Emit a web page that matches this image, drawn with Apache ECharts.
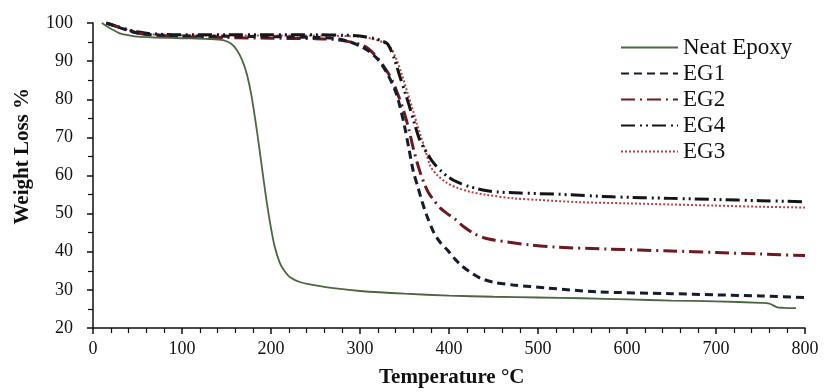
<!DOCTYPE html>
<html>
<head>
<meta charset="utf-8">
<script src="https://cdn.jsdelivr.net/npm/echarts@6/dist/echarts.min.js"></script>
<style>html,body{margin:0;padding:0;background:#fff;}#c{width:826px;height:392px;}</style>
</head>
<body>
<div id="c"></div>
<script>
const seriesNames = ['Neat Epoxy', 'EG1', 'EG2', 'EG4', 'EG3'];

const neatT = [10,15,20,30,40,50,70,100,130,146,155,162,168,173,178,184,189,194,199,204,210,215,221,233,250,275,300,350,400,450,500,550,600,650,700,750,760,768,775,790];
const neatW = [100,99.2,98.5,97.3,96.8,96.4,96.2,96,95.8,95.5,94.6,92.8,90,86.5,81,72,63.5,55,47.5,41.5,37,35,33.4,32,31.2,30.3,29.7,29,28.5,28.2,28,27.8,27.5,27.2,27,26.6,26.4,25.5,25.3,25.2];

const eg1T = [15,20,30,40,50,60,80,100,150,200,250,270,285,300,311,320,330,340,345,350,355,360,365,370,375,383,390,398,407,416,426,436,450,472,510,566,650,700,750,800];
const eg1W = [100,99.6,98.8,98,97.4,97,96.8,96.6,96.5,96.4,96.2,96,95.3,94,92.4,90.5,87,82,78,73,67,61,57,53,49.5,45,42.5,40.5,38,36,34.3,33,32,31.3,30.5,29.5,29,28.7,28.4,28];

const eg2T = [15,20,30,40,50,60,80,100,150,200,250,270,285,300,309,318,327,335,342,349,355,360,366,372,377,383,390,398,406,417,428,440,452,465,490,522,579,650,700,750,800];
const eg2W = [100,99.6,98.8,98,97.4,97,96.6,96.4,96.2,96,95.9,95.7,95.2,94.4,93.3,91.3,88.5,85.5,81.6,77,72,67,62,58,55.5,53.5,51.5,50,48.7,46.5,44.8,43.6,43,42.6,41.8,41.2,40.7,40.2,39.8,39.4,39];

const eg4T = [15,20,30,40,50,60,80,100,150,200,250,280,300,315,325,331,338,345,351,357,362,366,371,375,382,390,400,409,420,438,453,480,521,584,650,700,750,800];
const eg4W = [100,99.6,98.9,98.2,97.7,97.3,97,96.9,96.9,96.9,96.9,96.8,96.6,96,95.3,94.5,91,85.8,81.5,77,73,70,67.5,66,63.5,61.4,59.5,58.3,57.3,56.2,55.7,55.4,55.1,54.4,54,53.7,53.4,53.1];

const eg3T = [15,20,30,40,50,60,80,100,150,200,250,280,300,315,325,333,340,347,353,359,364,368,373,379,386,398,410,424,440,473,500,547,600,650,700,750,800];
const eg3W = [100,99.6,98.9,98.1,97.5,97.1,96.9,96.8,96.7,96.7,96.7,96.6,96.4,95.8,95,94,91,86.5,82,77.5,73.5,70.5,67,62.5,60.3,58,56.7,55.7,55,54,53.6,53,52.7,52.4,52.1,51.8,51.6];

const xTicks = [0,100,200,300,400,500,600,700,800];
const yTicks = [20,30,40,50,60,70,80,90,100];

function pairs(t, w) { return t.map((v, i) => [v, w[i]]); }

const serif = 'Liberation Serif, Times New Roman, serif';
const chart = echarts.init(document.getElementById('c'), null, {renderer: 'canvas'});

const styles = [
  {color: '#4a6741', width: 1.8, type: 'solid'},
  {color: '#141c2e', width: 3, type: [8, 5]},
  {color: '#6e1820', width: 3, type: [14, 5, 2, 5]},
  {color: '#151515', width: 3, type: [14, 5, 2, 4, 2, 4]},
  {color: '#b84040', width: 2, type: [2, 2]}
];
const dataSets = [pairs(neatT, neatW), pairs(eg1T, eg1W), pairs(eg2T, eg2W), pairs(eg4T, eg4W), pairs(eg3T, eg3W)];

chart.setOption({
  animation: false,
  backgroundColor: '#ffffff',
  grid: {left: 93, right: 21, top: 23, bottom: 64, containLabel: false},
  legend: {
    orient: 'vertical', left: 615, top: 31,
    itemWidth: 57, itemHeight: 10, itemGap: 3,
    itemStyle: {opacity: 0},
    textStyle: {fontFamily: serif, fontSize: 23, color: '#111', lineHeight: 23},
    data: seriesNames
  },
  xAxis: {
    type: 'value', min: xTicks[0], max: xTicks[xTicks.length - 1], interval: 100,
    axisLine: {show: true, lineStyle: {color: '#111', width: 1.5}},
    axisTick: {show: true, length: 6, lineStyle: {color: '#111', width: 1.5}},
    minorTick: {show: true, splitNumber: 5, length: 5, lineStyle: {color: '#111', width: 1.2}},
    splitLine: {show: false},
    axisLabel: {fontFamily: serif, fontSize: 18, color: '#111', margin: 12}
  },
  yAxis: {
    type: 'value', min: yTicks[0], max: yTicks[yTicks.length - 1], interval: 10,
    axisLine: {show: true, lineStyle: {color: '#111', width: 1.5}},
    axisTick: {show: true, length: 6, lineStyle: {color: '#111', width: 1.5}},
    minorTick: {show: true, splitNumber: 2, length: 5, lineStyle: {color: '#111', width: 1.2}},
    splitLine: {show: false},
    axisLabel: {fontFamily: serif, fontSize: 18, color: '#111', margin: 20}
  },
  graphic: [
    {type: 'text', left: 12, top: 88, rotation: Math.PI / 2,
     style: {text: 'Weight Loss %', font: 'bold 21px ' + serif, fill: '#111'}},
    {type: 'text', left: 379, top: 367,
     style: {text: 'Temperature °C', font: 'bold 21px ' + serif, fill: '#111'}}
  ],
  series: seriesNames.map((n, i) => ({
    name: n, type: 'line', data: dataSets[i], symbol: 'none', showSymbol: false,
    smooth: 0.3, lineStyle: styles[i], itemStyle: {color: styles[i].color},
    z: 10 - i
  }))
});
</script>
</body>
</html>
